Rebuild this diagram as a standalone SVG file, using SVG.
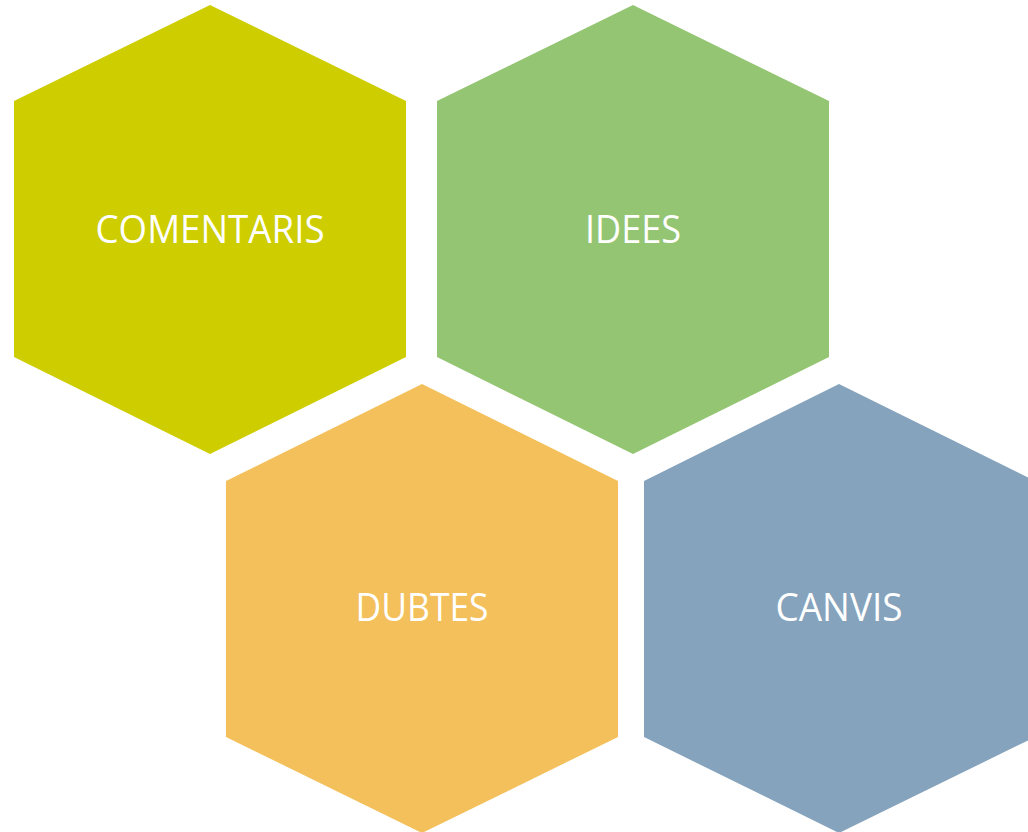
<svg xmlns="http://www.w3.org/2000/svg" width="1028" height="832" viewBox="0 0 1028 832">
<style>
.lbl{font-family:"Open Sans","Liberation Sans",sans-serif;font-size:38px;fill:#ffffff;text-anchor:middle}
</style>
<rect width="1028" height="832" fill="#ffffff"/>
<g id="node-comentaris">
<polygon points="210,5 406,101 406,357 210,454 14,357 14,101" fill="#CDCD00"/>
<text class="lbl" x="210" y="243" textLength="229" lengthAdjust="spacingAndGlyphs">COMENTARIS</text>
</g>
<g id="node-idees">
<polygon points="633,5 829,101 829,357 633,454 437,357 437,101" fill="#94C573"/>
<text class="lbl" x="633" y="243" textLength="96" lengthAdjust="spacingAndGlyphs">IDEES</text>
</g>
<g id="node-dubtes">
<polygon points="422,384 618,481 618,737 422,833 226,737 226,481" fill="#F3C05B"/>
<text class="lbl" x="422" y="621" textLength="133" lengthAdjust="spacingAndGlyphs">DUBTES</text>
</g>
<g id="node-canvis">
<polygon points="839,384 1035,481 1035,737 839,833 644,737 644,481" fill="#85A3BC"/>
<text class="lbl" x="839" y="621" textLength="127" lengthAdjust="spacingAndGlyphs">CANVIS</text>
</g>
<g id="connectors"/>
</svg>
